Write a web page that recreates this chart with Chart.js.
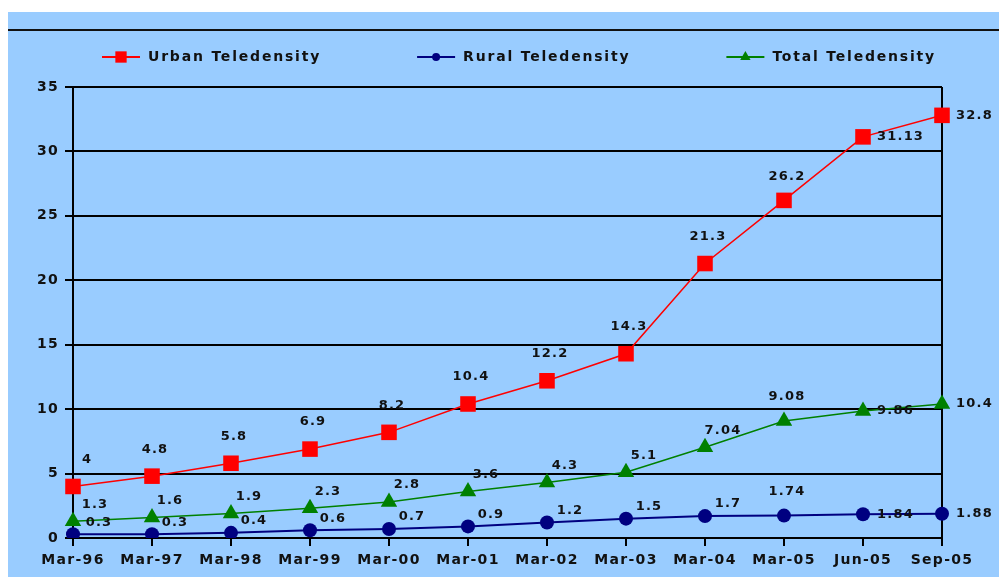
<!DOCTYPE html>
<html><head><meta charset="utf-8">
<script src="https://cdn.jsdelivr.net/npm/chart.js@4.4.0/dist/chart.umd.min.js"></script>
<style>html,body{margin:0;padding:0;background:#fff;overflow:hidden}canvas{display:block}</style>
</head><body>
<canvas id="c" width="999" height="577"></canvas>
<script>
// ---- data ----
const categories = ['Mar-96','Mar-97','Mar-98','Mar-99','Mar-00','Mar-01','Mar-02','Mar-03','Mar-04','Mar-05','Jun-05','Sep-05'];
const urbanTeledensity = [4, 4.8, 5.8, 6.9, 8.2, 10.4, 12.2, 14.3, 21.3, 26.2, 31.13, 32.8];
const ruralTeledensity = [0.3, 0.3, 0.4, 0.6, 0.7, 0.9, 1.2, 1.5, 1.7, 1.74, 1.84, 1.88];
const totalTeledensity = [1.3, 1.6, 1.9, 2.3, 2.8, 3.6, 4.3, 5.1, 7.04, 9.08, 9.86, 10.4];
const yTickValues = [0, 5, 10, 15, 20, 25, 30, 35];
const seriesNames = ['Urban Teledensity', 'Rural Teledensity', 'Total Teledensity'];

// ---- styles ----
const FONT = '"DejaVu Sans", Verdana, sans-serif';
const SPACING = '1.3px';
const seriesStyles = [
  {color: '#ff0000', pointStyle: 'rect', radius: 11, lineWidth: 1.5, legendRadius: 8, label: {dx: 3, dy: -27}, firstDx: 14},
  {color: '#000080', pointStyle: 'circle', radius: 7, lineWidth: 2, legendRadius: 4, label: {dx: 23, dy: -12}, firstDx: 26},
  {color: '#008000', pointStyle: 'triangle', radius: 9.5, lineWidth: 1.5, legendRadius: 6, label: {dx: 18, dy: -17}, firstDx: 22}
];
const seriesData = [urbanTeledensity, ruralTeledensity, totalTeledensity];

const spacingPlugin = {
  id: 'spacing',
  afterInit(chart) { chart.ctx.letterSpacing = SPACING; },
  beforeUpdate(chart) { chart.ctx.letterSpacing = SPACING; },
  beforeDraw(chart) { chart.ctx.letterSpacing = SPACING; }
};

const backgroundPlugin = {
  id: 'bg',
  beforeDraw(chart) {
    const c = chart.ctx;
    c.save();
    c.fillStyle = '#ffffff';
    c.fillRect(0, 0, chart.width, chart.height);
    c.fillStyle = '#99ccff';
    c.fillRect(8, 12, chart.width - 8, chart.height - 12);
    c.fillStyle = '#111111';
    c.fillRect(8, 29, chart.width - 8, 2);
    c.restore();
  }
};

const legendPlugin = {
  id: 'customLegend',
  afterDraw(chart) {
    const c = chart.ctx;
    c.save();
    c.letterSpacing = '1.8px';
    c.font = 'bold 14px ' + FONT;
    c.textBaseline = 'middle';
    c.textAlign = 'left';
    let x = 102;
    const y = 57;
    chart.data.datasets.forEach((ds, i) => {
      const st = seriesStyles[i];
      c.strokeStyle = st.color;
      c.lineWidth = 2;
      c.beginPath(); c.moveTo(x, y); c.lineTo(x + 38, y); c.stroke();
      c.fillStyle = st.color;
      Chart.helpers.drawPoint(c, {pointStyle: st.pointStyle, radius: st.legendRadius, rotation: 0, borderWidth: 0}, x + 19, y);
      c.fillStyle = '#111111';
      c.fillText(ds.label, x + 46, y);
      x += 46 + c.measureText(ds.label).width + 96;
    });
    c.restore();
  }
};

const valueLabelPlugin = {
  id: 'valueLabels',
  afterDatasetsDraw(chart) {
    const c = chart.ctx;
    c.save();
    c.letterSpacing = '1.2px';
    c.font = 'bold 13px ' + FONT;
    c.fillStyle = '#111111';
    c.textBaseline = 'middle';
    chart.data.datasets.forEach((ds, i) => {
      const meta = chart.getDatasetMeta(i);
      const n = meta.data.length;
      const st = seriesStyles[i];
      meta.data.forEach((pt, j) => {
        const txt = String(ds.data[j]);
        let dx, dy, align;
        if (j >= n - 2) { dx = 14; dy = 0; align = 'left'; }
        else if (j === n - 3) { dx = 3; dy = -24; align = 'center'; }
        else { dx = j === 0 ? st.firstDx : st.label.dx; dy = st.label.dy; align = 'center'; }
        c.textAlign = align;
        c.fillText(txt, pt.x + dx, pt.y + dy);
      });
    });
    c.restore();
  }
};

const datasets = seriesData.map((d, i) => ({
  label: seriesNames[i],
  data: d,
  borderColor: seriesStyles[i].color,
  backgroundColor: seriesStyles[i].color,
  borderWidth: seriesStyles[i].lineWidth,
  pointStyle: seriesStyles[i].pointStyle,
  pointRadius: seriesStyles[i].radius,
  pointBorderWidth: 0,
  pointBackgroundColor: seriesStyles[i].color,
  tension: 0,
  fill: false
}));

const tickFont = {family: FONT, size: 14, weight: 'bold'};

new Chart(document.getElementById('c').getContext('2d'), {
  type: 'line',
  data: {labels: categories, datasets: datasets},
  options: {
    responsive: false,
    animation: false,
    devicePixelRatio: 1,
    layout: {padding: {top: 87, right: 57, bottom: 0, left: 0}},
    plugins: {legend: {display: false}, tooltip: {enabled: false}},
    scales: {
      x: {
        type: 'category',
        offset: false,
        grid: {
          color: (ctx) => ctx.index === categories.length - 1 ? '#000000' : 'rgba(0,0,0,0)',
          lineWidth: 2,
          drawTicks: true,
          tickLength: 8,
          tickColor: '#000000',
          tickWidth: 2
        },
        border: {color: '#000000', width: 2},
        ticks: {font: tickFont, color: '#111111', maxRotation: 0, autoSkip: false, padding: 6},
        afterFit(s) { s.height = 39; }
      },
      y: {
        min: 0, max: 35,
        afterBuildTicks(s) { s.ticks = yTickValues.map(v => ({value: v})); },
        grid: {color: '#000000', lineWidth: 2, drawTicks: true, tickLength: 8, tickColor: '#000000', tickWidth: 2},
        border: {color: '#000000', width: 2},
        ticks: {font: tickFont, color: '#111111', padding: 6},
        afterFit(s) { s.width = 73; }
      }
    }
  },
  plugins: [spacingPlugin, backgroundPlugin, legendPlugin, valueLabelPlugin]
});
</script>
</body></html>
